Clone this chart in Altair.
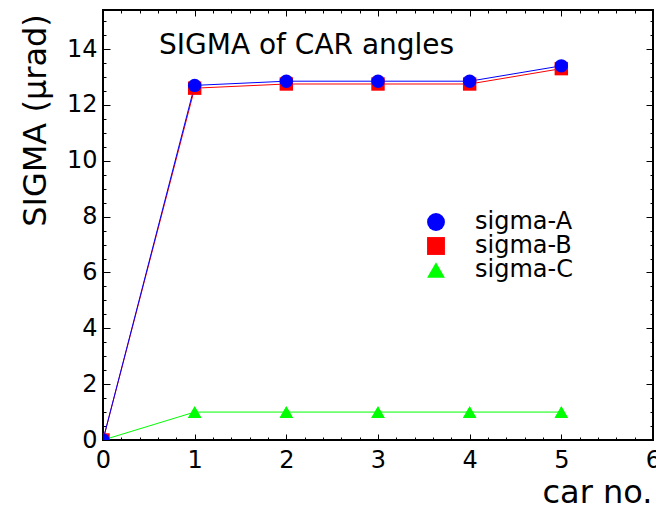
import altair as alt
import numpy as np
import pandas as pd

# ---- data ----
car = [0, 1, 2, 3, 4, 5]
sigma_a = [0.0, 12.7, 12.85, 12.85, 12.85, 13.4]
sigma_b = [0.0, 12.6, 12.75, 12.75, 12.75, 13.3]
sigma_c = [0.0, 1.0, 1.0, 1.0, 1.0, 1.0]
series = ["sigma-A", "sigma-B", "sigma-C"]
colors = ["#0000ff", "#ff0000", "#00ff00"]
shapes = ["circle", "square", "triangle-up"]
x_labels = [0, 1, 2, 3, 4, 5, 6]
y_labels = [0, 2, 4, 6, 8, 10, 12, 14]
x_minor = [round(v, 1) for v in np.arange(0, 6.0001, 0.2)]
y_minor = [round(v, 1) for v in np.arange(0, 15.01, 0.5)]
chart_title = "SIGMA of CAR angles"
x_title = "car no."
y_title = "SIGMA (\u03bcrad)"

rows = []
for name, vals in [("sigma-C", sigma_c), ("sigma-B", sigma_b), ("sigma-A", sigma_a)]:
    for c, v in zip(car, vals):
        rows.append({"car": c, "sigma": v, "series": name})
df = pd.DataFrame(rows)

F = "DejaVu Sans"
W, H = 550, 430
xs = alt.Scale(domain=[0, 6], nice=False, zero=False)
ys = alt.Scale(domain=[0, 15.4], nice=False, zero=False)
cscale = alt.Scale(domain=series, range=colors)
sscale = alt.Scale(domain=series, range=shapes)

axis_lab_x = alt.Axis(orient="bottom", values=x_labels, ticks=False, domain=False, grid=False,
                      labelFont=F, labelFontSize=24, labelColor="black",
                      labelPadding=8, labelFlush=False, format="d",
                      titleFont=F, titleFontSize=32, titleFontWeight="normal",
                      titleColor="black", titleX=W - 1, titleY=62,
                      titleAlign="right", titleBaseline="alphabetic")
axis_lab_y = alt.Axis(orient="left", values=y_labels, ticks=False, domain=False, grid=False,
                      labelFont=F, labelFontSize=24, labelColor="black",
                      labelPadding=6, labelFlush=False, format="d",
                      titleFont=F, titleFontSize=32, titleFontWeight="normal",
                      titleColor="black", titleX=-68, titleY=110, titleAngle=-90,
                      titleAlign="center", titleBaseline="middle")

common = dict(labels=False, domain=False, grid=False, tickColor="black", tickWidth=1)

# inward ticks: an axis on the opposite side pushed across the plot by a negative offset
ax_bottom_major = alt.Axis(orient="top", offset=-H, values=x_labels, tickSize=6, **common)
ax_bottom_minor = alt.Axis(orient="top", offset=-H, values=x_minor, tickSize=3, **common)
ax_top_major = alt.Axis(orient="bottom", offset=-H, values=x_labels, tickSize=6, **common)
ax_top_minor = alt.Axis(orient="bottom", offset=-H, values=x_minor, tickSize=3, **common)
ax_left_major = alt.Axis(orient="right", offset=-W, values=y_labels, tickSize=7, **common)
ax_left_minor = alt.Axis(orient="right", offset=-W, values=y_minor, tickSize=3, **common)
ax_right_major = alt.Axis(orient="left", offset=-W, values=y_labels, tickSize=7, **common)
ax_right_minor = alt.Axis(orient="left", offset=-W, values=y_minor, tickSize=3, **common)

base = alt.Chart(df)


def line_layer(name, xaxis, yaxis, xt=None, yt=None):
    return base.transform_filter(f"datum.series == '{name}'").mark_line(strokeWidth=1, clip=True).encode(
        x=alt.X("car:Q", scale=xs, axis=xaxis, title=xt),
        y=alt.Y("sigma:Q", scale=ys, axis=yaxis, title=yt),
        color=alt.Color("series:N", scale=cscale, legend=None),
    )


line_c = line_layer("sigma-C", ax_top_major, ax_right_major)
line_b = line_layer("sigma-B", axis_lab_x, axis_lab_y, x_title, y_title)
line_a = line_layer("sigma-A", ax_top_minor, ax_right_minor)

leg = alt.Legend(orient="none", legendX=321, legendY=200, title=None,
                 symbolSize=320, symbolStrokeWidth=0, labelFont=F, labelFontSize=24,
                 labelColor="black", labelOffset=27, rowPadding=0, padding=0)

points_c = base.transform_filter("datum.series == 'sigma-C'").mark_point(
    filled=True, size=180, opacity=1, clip=True).encode(
    x=alt.X("car:Q", scale=xs, axis=ax_bottom_minor, title=None),
    y=alt.Y("sigma:Q", scale=ys, axis=ax_left_minor, title=None),
    color=alt.Color("series:N", scale=cscale, legend=None),
    shape=alt.Shape("series:N", scale=sscale, legend=None),
)

points = base.mark_point(filled=True, size=180, opacity=1, clip=True).encode(
    x=alt.X("car:Q", scale=xs, axis=ax_bottom_major, title=None),
    y=alt.Y("sigma:Q", scale=ys, axis=ax_left_major, title=None),
    color=alt.Color("series:N", scale=cscale, legend=leg),
    shape=alt.Shape("series:N", scale=sscale, legend=leg),
)

title_layer = alt.Chart(alt.Data(values=[{"t": chart_title}])).mark_text(
    font=F, fontSize=28, align="left", baseline="alphabetic", color="black"
).encode(x=alt.value(56), y=alt.value(44), text="t:N")

chart = alt.layer(line_c, line_b, line_a, points_c, points, title_layer).resolve_axis(
    x="independent", y="independent"
).resolve_legend(color="independent", shape="independent").properties(
    width=W, height=H,
    background="white",
    autosize=alt.AutoSizeParams(type="none"),
    padding={"left": 103, "top": 10, "right": 3, "bottom": 70},
).configure_view(stroke="black", strokeWidth=2)

chart.save("out.html", embed_options={"renderer": "svg", "actions": False})
